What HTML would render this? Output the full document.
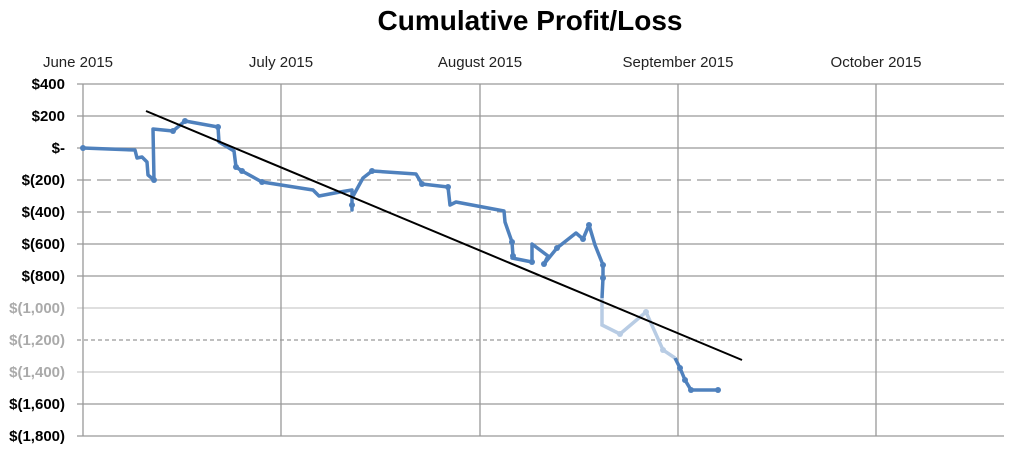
<!DOCTYPE html>
<html><head><style>body{margin:0;background:#fff}svg{display:block}</style></head><body>
<svg width="1014" height="451" xmlns="http://www.w3.org/2000/svg" font-family="Liberation Sans, sans-serif">
<text x="530" y="30" font-size="28" font-weight="bold" text-anchor="middle" fill="#000">Cumulative Profit/Loss</text>
<g font-size="15" fill="#222" text-anchor="middle">
<text x="78" y="67">June 2015</text><text x="281" y="67">July 2015</text><text x="480" y="67">August 2015</text><text x="678" y="67">September 2015</text><text x="876" y="67">October 2015</text>
</g>
<g stroke="#999" stroke-width="1.3">
<line x1="77" y1="84" x2="1004" y2="84"/><line x1="77" y1="116" x2="1004" y2="116"/><line x1="77" y1="148" x2="1004" y2="148"/>
<line x1="77" y1="180" x2="1004" y2="180" stroke-dasharray="14 6"/><line x1="77" y1="212" x2="1004" y2="212" stroke-dasharray="14 6"/>
<line x1="77" y1="244" x2="1004" y2="244"/><line x1="77" y1="276" x2="1004" y2="276"/>
<line x1="77" y1="308" x2="1004" y2="308" stroke="#ccc"/><line x1="77" y1="340" x2="1004" y2="340" stroke-dasharray="4 3"/><line x1="77" y1="372" x2="1004" y2="372" stroke="#ccc"/>
<line x1="77" y1="404" x2="1004" y2="404"/><line x1="77" y1="436" x2="1004" y2="436"/>
<line x1="83" y1="84" x2="83" y2="436"/><line x1="281" y1="84" x2="281" y2="436"/><line x1="480" y1="84" x2="480" y2="436"/><line x1="678" y1="84" x2="678" y2="436"/><line x1="876" y1="84" x2="876" y2="436"/>
</g>
<g font-size="15" font-weight="bold" text-anchor="end" fill="#000">
<text x="65" y="89">$400</text><text x="65" y="121">$200</text><text x="65" y="153">$-</text><text x="65" y="185">$(200)</text><text x="65" y="217">$(400)</text><text x="65" y="249">$(600)</text><text x="65" y="281">$(800)</text>
<text x="65" y="313" fill="#aaa">$(1,000)</text><text x="65" y="345" fill="#aaa">$(1,200)</text><text x="65" y="377" fill="#aaa">$(1,400)</text>
<text x="65" y="409">$(1,600)</text><text x="65" y="441">$(1,800)</text>
</g>
<polyline fill="none" stroke="#4f81bd" stroke-width="3.5" stroke-linejoin="round" points="83,148 135,150 137,158 142,157 147,162 148,175 154,180 153,129 173,131 185,121 218,127 219,142 234,151 236,167 242,171 262,182 313,190 319,196 340,192 352,190 352,210 352,198 363,178 372,171 416,174 422,184 448,187 450,205 456,202 504,211 505,222 512,242 513,256 512,258 532,262 532,244 548,256 544,264 557,248 576,233 583,239 589,225 595,245 603,265 603,278 602,298"/>
<polyline fill="none" stroke="#b8cce4" stroke-width="3.5" points="602,298 602,325 620,334 646,312 663,350 675,358"/>
<polyline fill="none" stroke="#4f81bd" stroke-width="3.5" points="675,358 680,368 685,380 691,390 718,390"/>
<g fill="#4f81bd">
<circle cx="83" cy="148" r="3"/><circle cx="154" cy="180" r="3"/><circle cx="173" cy="131" r="3"/><circle cx="185" cy="121" r="3"/><circle cx="218" cy="127" r="3"/><circle cx="236" cy="167" r="3"/><circle cx="242" cy="171" r="3"/><circle cx="262" cy="182" r="3"/><circle cx="352" cy="205" r="3"/><circle cx="372" cy="171" r="3"/><circle cx="422" cy="184" r="3"/><circle cx="448" cy="187" r="3"/><circle cx="512" cy="242" r="3"/><circle cx="513" cy="256" r="3"/><circle cx="532" cy="262" r="3"/><circle cx="544" cy="264" r="3"/><circle cx="557" cy="248" r="3"/><circle cx="583" cy="239" r="3"/><circle cx="589" cy="225" r="3"/><circle cx="603" cy="265" r="3"/><circle cx="603" cy="278" r="3"/><circle cx="680" cy="368" r="3"/><circle cx="685" cy="380" r="3"/><circle cx="691" cy="390" r="3"/><circle cx="718" cy="390" r="3"/>
</g>
<g fill="#b8cce4"><circle cx="620" cy="334" r="3"/><circle cx="646" cy="312" r="3"/><circle cx="663" cy="350" r="3"/></g>
<line x1="146" y1="111" x2="742" y2="360" stroke="#000" stroke-width="2"/>
</svg>
</body></html>
